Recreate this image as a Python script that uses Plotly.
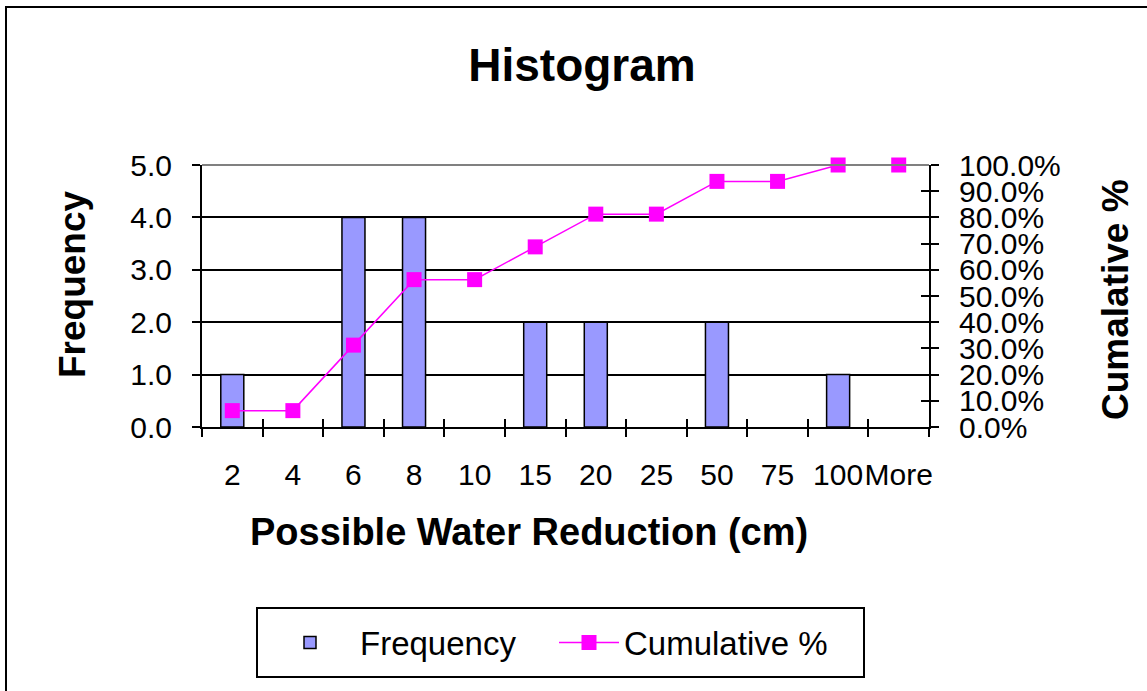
import plotly.graph_objects as go

# Histogram bins and counts
bins = ["2", "4", "6", "8", "10", "15", "20", "25", "50", "75", "100", "More"]
frequency = [1, 0, 4, 4, 0, 2, 2, 0, 2, 0, 1, 0]

# Axis tick values
freq_ticks = [0, 1, 2, 3, 4, 5]
pct_ticks = [0.0, 0.1, 0.2, 0.3, 0.4, 0.5, 0.6, 0.7, 0.8, 0.9, 1.0]

# Cumulative share of observations per bin
total = sum(frequency)
cumulative = []
running = 0
for f in frequency:
    running += f
    cumulative.append(running / total)

W, H = 1147, 691
PL, PR, PT, PB = 202, 929, 165, 427   # plot-area edges in px
FONT = "Liberation Sans, Arial, sans-serif"


def px_x(px):
    return (px - PL) / (PR - PL)


def px_y(py):
    return (PB - py) / (PB - PT)


fig = go.Figure()

# empty bins get no outline so they leave no trace on the baseline
outline_widths = [1.5 if f > 0 else 0 for f in frequency]

fig.add_trace(go.Bar(
    x=bins, y=frequency, name="Frequency",
    marker=dict(color="#9999FF", line=dict(color="black", width=outline_widths)),
    xaxis="x", yaxis="y", legend="legend",
))

fig.add_trace(go.Scatter(
    x=bins, y=cumulative, name="Cumulative %",
    mode="lines+markers",
    line=dict(color="#FF00FF", width=1.5),
    marker=dict(symbol="square", size=15, color="#FF00FF"),
    cliponaxis=False,
    xaxis="x", yaxis="y2", legend="legend2",
))

# empty traces that carry the inward half of the crossing tick marks
fig.add_trace(go.Scatter(x=[], y=[], xaxis="x3", yaxis="y3",
                         showlegend=False, hoverinfo="skip"))
fig.add_trace(go.Scatter(x=[], y=[], xaxis="x3", yaxis="y4",
                         showlegend=False, hoverinfo="skip"))

tick_font = dict(family=FONT, size=30, color="black")
legend_font = dict(family=FONT, size=33, color="black")
n = len(bins)
boundaries = [i - 0.5 for i in range(n + 1)]

fig.update_layout(
    width=W, height=H,
    margin=dict(l=PL, r=W - PR, t=PT, b=H - PB, pad=0),
    paper_bgcolor="white", plot_bgcolor="white",
    bargap=0.62,
    showlegend=True,
    title=dict(text="Histogram", xref="container", yref="container",
               x=582 / W, y=1 - 65 / H, xanchor="center", yanchor="middle",
               font=dict(family=FONT, size=46, color="black", weight="bold")),
    xaxis=dict(
        type="category", categoryorder="array", categoryarray=bins,
        range=[-0.5, n - 0.5],
        tickson="boundaries", ticks="outside", ticklen=8, tickwidth=1.5,
        tickcolor="black", tickangle=0,
        showline=True, linecolor="black", linewidth=2,
        showgrid=False, zeroline=False, automargin=False,
        tickfont=tick_font, ticklabelstandoff=20,
    ),
    yaxis=dict(
        range=[0, 5], tickmode="array", tickvals=freq_ticks,
        tickformat=".1f",
        ticks="outside", ticklen=8, tickwidth=1.5, tickcolor="black",
        showline=True, linecolor="black", linewidth=2,
        showgrid=True, gridcolor="black", gridwidth=1.5,
        zeroline=False, automargin=False,
        tickfont=tick_font, ticklabelstandoff=14,
    ),
    yaxis2=dict(
        overlaying="y", side="right", anchor="x",
        range=[0, 1], tickmode="array", tickvals=pct_ticks,
        tickformat=".1%",
        ticks="outside", ticklen=8, tickwidth=1.5, tickcolor="black",
        showline=True, linecolor="black", linewidth=2,
        showgrid=False, zeroline=False, automargin=False,
        tickfont=tick_font, ticklabelstandoff=14,
    ),
    xaxis3=dict(
        overlaying="x", anchor="y", side="bottom",
        range=[-0.5, n - 0.5], tickmode="array", tickvals=boundaries,
        ticks="inside", ticklen=8, tickwidth=1.5, tickcolor="black",
        showticklabels=False, showgrid=False, showline=False,
        zeroline=False, automargin=False,
    ),
    yaxis3=dict(
        overlaying="y", anchor="x", side="left",
        range=[0, 5], tickmode="array", tickvals=freq_ticks,
        ticks="inside", ticklen=8, tickwidth=1.5, tickcolor="black",
        showticklabels=False, showgrid=False, showline=False,
        zeroline=False, automargin=False,
    ),
    yaxis4=dict(
        overlaying="y", anchor="x", side="right",
        range=[0, 1], tickmode="array", tickvals=pct_ticks,
        ticks="inside", ticklen=8, tickwidth=1.5, tickcolor="black",
        showticklabels=False, showgrid=False, showline=False,
        zeroline=False, automargin=False,
    ),
    legend=dict(
        orientation="h", xref="container", yref="container",
        x=260 / W, y=1 - 642.5 / H, xanchor="left", yanchor="middle",
        bgcolor="rgba(0,0,0,0)", borderwidth=0,
        font=legend_font, itemwidth=90,
    ),
    legend2=dict(
        orientation="h", xref="container", yref="container",
        x=554 / W, y=1 - 642.5 / H, xanchor="left", yanchor="middle",
        bgcolor="rgba(0,0,0,0)", borderwidth=0,
        font=legend_font, itemwidth=60,
    ),
)

# axis titles
fig.add_annotation(text="Possible Water Reduction (cm)", xref="paper", yref="paper",
                   x=px_x(529), y=px_y(532), showarrow=False,
                   xanchor="center", yanchor="middle",
                   font=dict(family=FONT, size=38, color="black", weight="bold"))
fig.add_annotation(text="Frequency", xref="paper", yref="paper",
                   x=px_x(72), y=px_y(284), showarrow=False, textangle=-90,
                   xanchor="center", yanchor="middle",
                   font=dict(family=FONT, size=37, color="black", weight="bold"))
fig.add_annotation(text="Cumalative %", xref="paper", yref="paper",
                   x=px_x(1115), y=px_y(300), showarrow=False, textangle=-90,
                   xanchor="center", yanchor="middle",
                   font=dict(family=FONT, size=37, color="black", weight="bold"))

# grey top border of the plot area
fig.add_shape(type="line", xref="paper", yref="paper", x0=0, x1=1, y0=1, y1=1,
              line=dict(color="#808080", width=2), layer="above")
# outer chart frame
fig.add_shape(type="rect", xref="paper", yref="paper",
              x0=px_x(6), x1=px_x(1160), y0=px_y(700), y1=px_y(7),
              line=dict(color="black", width=2), fillcolor="rgba(0,0,0,0)",
              layer="below")
# legend frame
fig.add_shape(type="rect", xref="paper", yref="paper",
              x0=px_x(257), x1=px_x(864), y0=px_y(677), y1=px_y(608),
              line=dict(color="black", width=2), fillcolor="white",
              layer="below")

fig.write_html("out.html")
